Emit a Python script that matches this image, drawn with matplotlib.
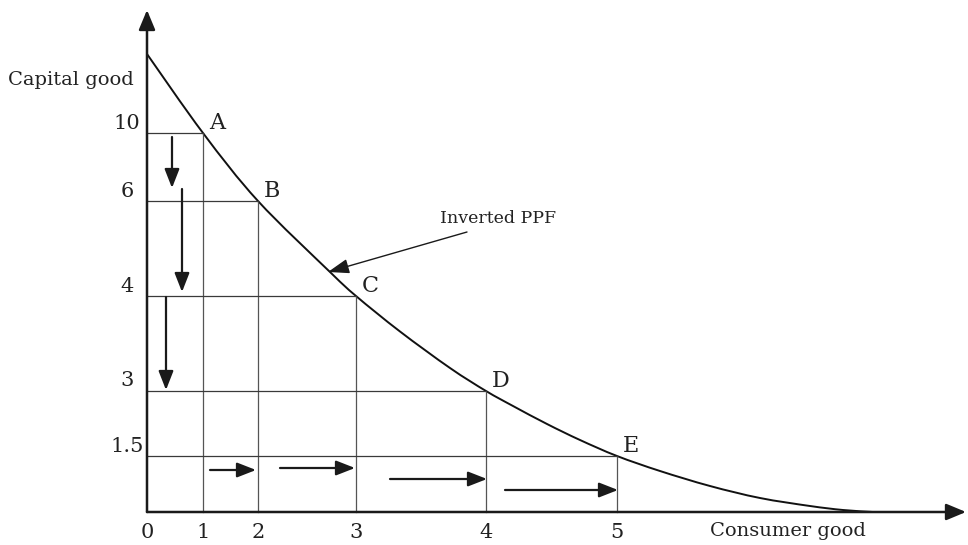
import matplotlib
matplotlib.use("Agg")
import matplotlib.pyplot as plt
from matplotlib.patches import ArrowStyle, PathPatch
from matplotlib.path import Path

plt.rcParams['font.family'] = ['DejaVu Serif']

# tick labels and where they sit on each axis (100 px per unit)
consumer_labels = ['0', '1', '2', '3', '4', '5']
consumer_pos = [0.0, 0.56, 1.11, 2.09, 3.39, 4.70]
capital_labels = ['10', '6', '4', '3', '1.5']
capital_pos = [3.79, 3.11, 2.16, 1.21, 0.56]
point_names = ['A', 'B', 'C', 'D', 'E']

# inverted PPF, points
curve_x = [0.00, 0.56, 1.11, 1.83, 2.09, 2.53, 3.03, 3.39,
           3.66, 4.00, 4.33, 4.70, 5.13, 5.63, 6.13, 6.63, 6.96, 7.26]
curve_y = [4.58, 3.79, 3.11, 2.40, 2.16, 1.805, 1.44, 1.21,
           1.06, 0.88, 0.72, 0.56, 0.41, 0.26, 0.14, 0.06, 0.02, 0.00]

# movement arrows
down_x = [0.25, 0.35, 0.19]
down_from = [3.75, 3.23, 2.15]
down_to = [3.24, 2.20, 1.22]
right_y = [0.42, 0.44, 0.33, 0.22]
right_from = [0.63, 1.33, 2.43, 3.58]
right_to = [1.09, 2.08, 3.40, 4.71]

fig = plt.figure(figsize=(9.68, 5.45), dpi=100)
ax = fig.add_axes([0, 0, 1, 1])
ax.set_xlim(-1.47, 8.21)
ax.set_ylim(-0.33, 5.12)
ax.axis('off')

axis_head = ArrowStyle('-|>', head_length=1.2, head_width=0.5)
small_head = ArrowStyle('-|>', head_length=1.15, head_width=0.45)

# axes with arrow heads
ax.annotate('', xy=(8.19, 0), xytext=(0, 0),
            arrowprops=dict(arrowstyle=axis_head, mutation_scale=10,
                            lw=1.8, color='#1a1a1a', shrinkA=0, shrinkB=0))
ax.annotate('', xy=(0, 5.02), xytext=(0, 0),
            arrowprops=dict(arrowstyle=axis_head, mutation_scale=10,
                            lw=1.8, color='#1a1a1a', shrinkA=0, shrinkB=0))

# guide lines to each point on the curve
for i in range(len(point_names)):
    px = consumer_pos[i + 1]
    py = capital_pos[i]
    ax.plot([px, px], [0, py], color='#555555', lw=0.9)
    ax.plot([0, px], [py, py], color='#3a3a3a', lw=0.9)
    ax.text(px + 0.06, py + 0.1, point_names[i], fontsize=16,
            ha='left', va='center', color='#222222')

# smooth path through the read points (Catmull-Rom as cubic Bezier)
n = len(curve_x)
verts = [(curve_x[0], curve_y[0])]
codes = [Path.MOVETO]
for i in range(n - 1):
    x0, y0 = curve_x[max(i - 1, 0)], curve_y[max(i - 1, 0)]
    x1, y1 = curve_x[i], curve_y[i]
    x2, y2 = curve_x[i + 1], curve_y[i + 1]
    x3, y3 = curve_x[min(i + 2, n - 1)], curve_y[min(i + 2, n - 1)]
    verts += [(x1 + (x2 - x0) / 6, y1 + (y2 - y0) / 6),
              (x2 - (x3 - x1) / 6, y2 - (y3 - y1) / 6),
              (x2, y2)]
    codes += [Path.CURVE4] * 3
ax.add_patch(PathPatch(Path(verts, codes), fill=False, edgecolor='#111111', lw=1.4))

for x, y0, y1 in zip(down_x, down_from, down_to):
    ax.annotate('', xy=(x, y1), xytext=(x, y0),
                arrowprops=dict(arrowstyle=small_head, mutation_scale=10,
                                lw=1.6, color='#1a1a1a', shrinkA=0, shrinkB=0))
for y, x0, x1 in zip(right_y, right_from, right_to):
    ax.annotate('', xy=(x1, y), xytext=(x0, y),
                arrowprops=dict(arrowstyle=small_head, mutation_scale=10,
                                lw=1.6, color='#1a1a1a', shrinkA=0, shrinkB=0))

# label pointing at the curve
ax.annotate('', xy=(1.81, 2.40), xytext=(3.20, 2.80),
            arrowprops=dict(arrowstyle=ArrowStyle('-|>', head_length=1.3, head_width=0.45),
                            mutation_scale=10, lw=1.0, color='#1a1a1a',
                            shrinkA=0, shrinkB=0))
ax.text(2.93, 2.94, 'Inverted PPF', fontsize=12.5, ha='left', va='center', color='#222222')

# tick labels
for lab, pos in zip(consumer_labels, consumer_pos):
    ax.text(pos, -0.2, lab, fontsize=15, ha='center', va='center', color='#222222')
for lab, pos in zip(capital_labels, capital_pos):
    ax.text(-0.2, pos + 0.1, lab, fontsize=15, ha='center', va='center', color='#222222')

ax.text(-1.39, 4.32, 'Capital good', fontsize=14, ha='left', va='center', color='#222222')
ax.text(5.63, -0.19, 'Consumer good', fontsize=14, ha='left', va='center', color='#222222')

fig.savefig('out.png', dpi=100)
